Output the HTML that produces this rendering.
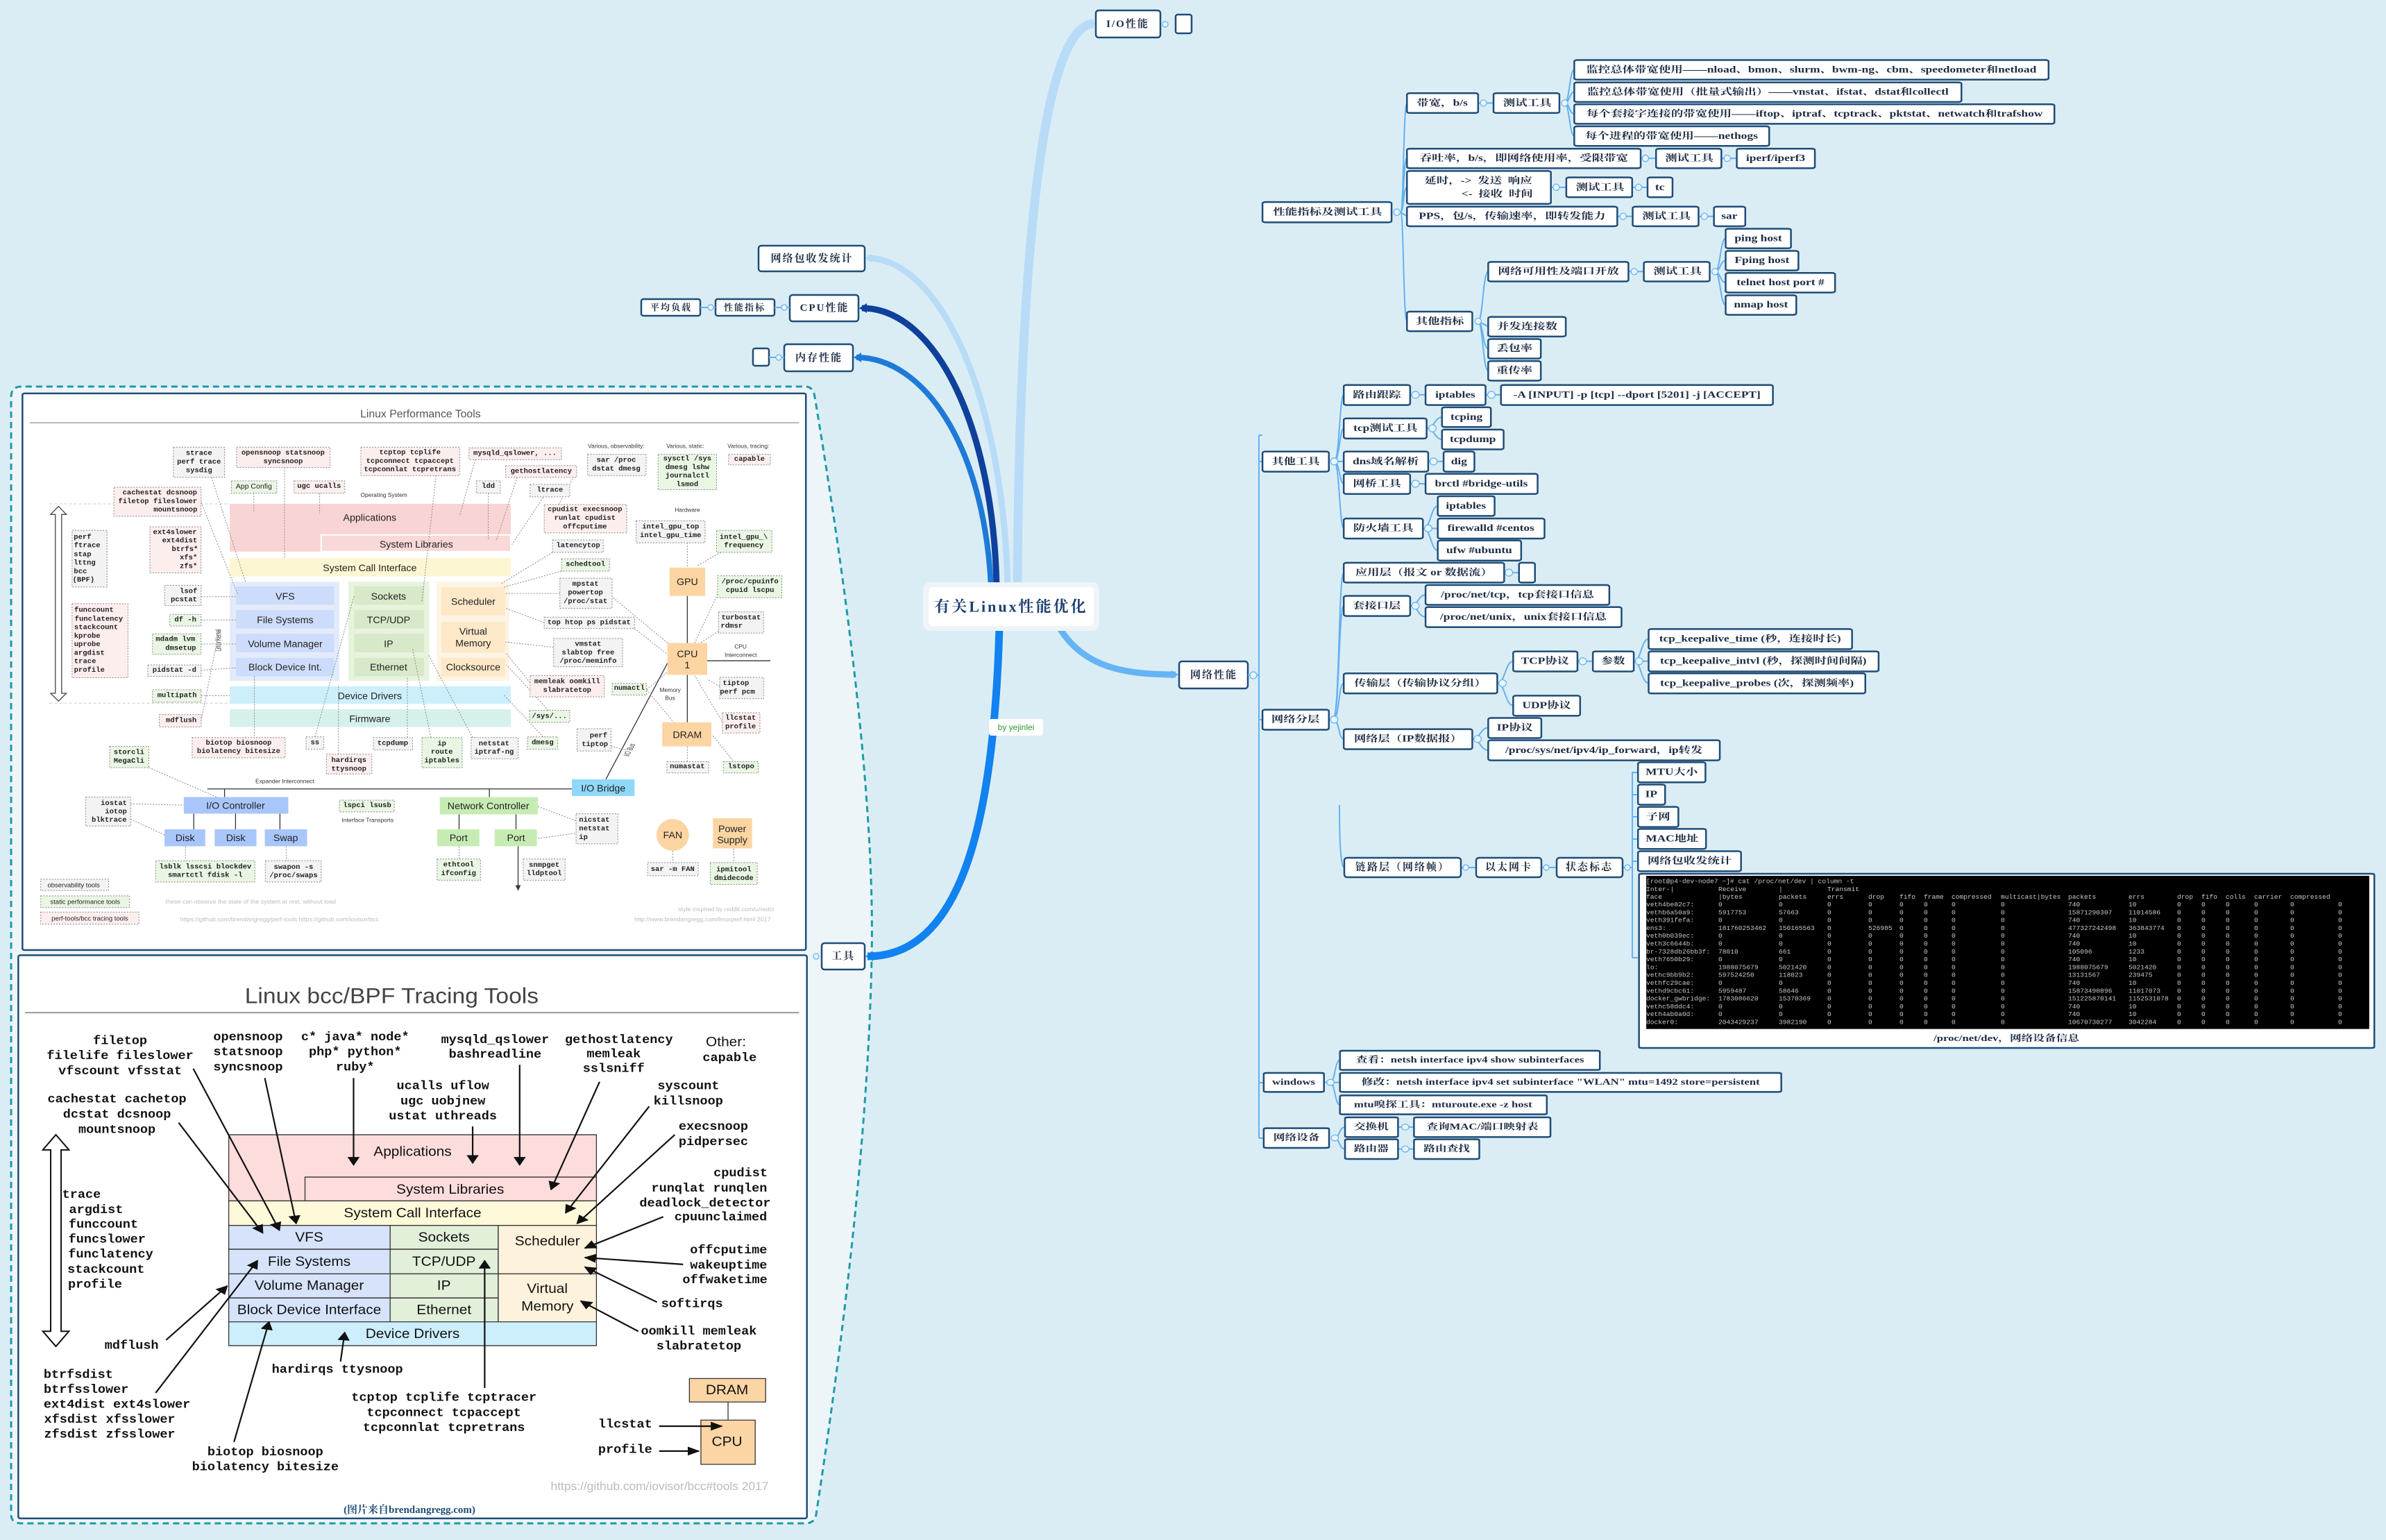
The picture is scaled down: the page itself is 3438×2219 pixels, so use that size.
<!DOCTYPE html>
<html><head><meta charset="utf-8">
<style>
html,body{margin:0;padding:0}
body{width:3438px;height:2214px;background:#dbedf4;overflow:hidden}
svg text{font-family:"Liberation Serif","Noto Serif CJK SC",serif;fill:#1d2c44;text-anchor:middle;dominant-baseline:central}
.n rect,.n line,.n path,.n ellipse,.n polygon,.n circle{vector-effect:non-scaling-stroke}
.nd{fill:#fff;stroke:#1f4d78;stroke-width:2.5}
.cn{fill:none;stroke:#63b1f2;stroke-width:2}
.ci{fill:#e8f4fc;stroke:#63b1f2;stroke-width:1.2}
.z1 text{transform-box:fill-box;transform-origin:center;transform:scaleX(.57);font-size:40px;font-weight:bold}
.z2 text{transform-box:fill-box;transform-origin:center;transform:scaleX(.78);font-size:29px;font-weight:bold}
.z3 text{transform-box:fill-box;transform-origin:center;transform:scaleX(.42);font-size:38px;font-weight:bold}
.i1 text{transform-box:fill-box;transform-origin:center;transform:scaleX(.7);font-family:"Liberation Mono",monospace;font-size:20px;fill:#222;font-weight:bold}
.i1 .sa{font-family:"Liberation Sans",sans-serif;font-weight:normal}
.i1 .L{font-size:27px;font-weight:normal}
.i1 .sm{font-size:16px;font-weight:normal;fill:#333}
.i1 .ft{font-size:17px;font-weight:normal;fill:#bbb}
.i2 text{transform-box:fill-box;transform-origin:center;transform:scaleX(.77);font-family:"Liberation Mono",monospace;font-size:32px;fill:#111;font-weight:bold}
.i2 .sa{font-family:"Liberation Sans",sans-serif;font-weight:normal;font-size:36px}
.gr{fill:#f3f3f3;stroke:#888;stroke-width:1;stroke-dasharray:2 2}
.gn{fill:#e9f6e3;stroke:#888;stroke-width:1;stroke-dasharray:2 2}
.pk{fill:#fdeeee;stroke:#888;stroke-width:1;stroke-dasharray:2 2}
.dl{stroke:#888;stroke-width:1;stroke-dasharray:2 2;fill:none}
.sl{stroke:#333;stroke-width:1.3;fill:none}
.ar{stroke:#111;stroke-width:2.2;fill:none;marker-end:url(#ah)}
.tm text{font-family:"Liberation Mono",monospace;font-size:9.6px;fill:#c9c9c9;text-anchor:start;font-weight:normal}
.mn text{font-size:15px;font-weight:bold;letter-spacing:2px}
</style></head><body>
<svg width="3438" height="2214" viewBox="0 0 3438 2214" xmlns="http://www.w3.org/2000/svg">
<defs>
<marker id="ah" viewBox="0 0 10 10" refX="9" refY="5" markerWidth="7" markerHeight="7" orient="auto-start-reverse"><path d="M0,0 L10,5 L0,10 z" fill="#111"/></marker>
</defs>

<path d="M16,572 Q16,557 31,557 L1160,557 Q1172,557 1174,572 Q1262,1100 1256,1378 Q1250,1700 1176,2182 Q1174,2195 1160,2195 L31,2195 Q16,2195 16,2182 Z" fill="#edf5f8" stroke="#1e9aa8" stroke-width="3" stroke-dasharray="9 6"/>

<path d="M1466,846 C1468,480 1490,38 1576,34" fill="none" stroke="#b8dcf8" stroke-width="13"/>
<path d="M1452,846 C1445,560 1350,372 1250,372" fill="none" stroke="#b8dcf8" stroke-width="9"/>
<path d="M1436,846 C1432,620 1350,444 1242,444" fill="none" stroke="#0f409c" stroke-width="9"/>
<path d="M1428,846 C1418,640 1330,515 1234,515" fill="none" stroke="#1e7ad8" stroke-width="8"/>
<path d="M1525,902 C1560,962 1620,972 1694,972" fill="none" stroke="#64b4f6" stroke-width="9"/>
<path d="M1440,902 C1432,1200 1380,1378 1250,1378" fill="none" stroke="#1182f0" stroke-width="11"/>
<polygon points="1580,34 1570,28 1570,40" fill="#b8dcf8"/>
<polygon points="1246,372 1256,366 1256,378" fill="#b8dcf8"/>
<polygon points="1238,444 1249,437 1249,451" fill="#0f409c"/>
<polygon points="1230,515 1241,508 1241,522" fill="#1e7ad8"/>
<polygon points="1698,972 1688,966 1688,978" fill="#64b4f6"/>
<polygon points="1247,1378 1258,1371 1258,1385" fill="#1182f0"/>

<rect x="1330" y="839" width="254" height="70" rx="10" fill="#eef4f7"/>
<rect x="1338" y="846" width="238" height="56" rx="6" fill="#fff"/>
<text x="1457" y="874" style="font-size:22px;font-weight:bold;fill:#1b3e6e;letter-spacing:3px">有关Linux性能优化</text>
<rect x="1425" y="1036" width="78" height="24" rx="4" fill="#fff"/>
<text x="1464" y="1048" style="font-family:'Liberation Sans',sans-serif;font-size:12px;fill:#2e9a2e">by yejinlei</text>

<g class="mn">
<rect class="nd" x="1579" y="15" width="93" height="39" rx="4"/><text x="1625" y="35">I/O性能</text>
<rect class="nd" x="1694" y="21" width="23" height="27" rx="3"/>
<circle class="ci" cx="1679" cy="35" r="4"/>
<rect class="nd" x="1093" y="354" width="153" height="37" rx="4"/><text x="1170" y="373">网络包收发统计</text>
<rect class="nd" x="1138" y="425" width="99" height="38" rx="4"/><text x="1188" y="444">CPU性能</text>
<rect class="nd" x="1031" y="431" width="85" height="24" rx="3"/><text x="1073" y="443" style="font-size:13px">性能指标</text>
<rect class="nd" x="924" y="431" width="85" height="24" rx="3"/><text x="967" y="443" style="font-size:13px">平均负载</text>
<line x1="1009" y1="443" x2="1031" y2="443" class="cn"/><line x1="1116" y1="443" x2="1138" y2="443" class="cn"/>
<circle class="ci" cx="1024" cy="443" r="4"/><circle class="ci" cx="1130" cy="443" r="4"/>
<rect class="nd" x="1130" y="496" width="99" height="39" rx="4"/><text x="1180" y="516">内存性能</text>
<rect class="nd" x="1085" y="502" width="23" height="25" rx="3"/>
<line x1="1108" y1="515" x2="1130" y2="515" class="cn"/><circle class="ci" cx="1122" cy="515" r="4"/>
<rect class="nd" x="1699" y="953" width="99" height="39" rx="4"/><text x="1749" y="973">网络性能</text>
<rect class="nd" x="1184" y="1359" width="62" height="38" rx="4"/><text x="1215" y="1378">工具</text>
<circle class="ci" cx="1176" cy="1378" r="4"/>
</g>

<text x="590" y="1359" style="font-size:15px;fill:#1f4d78;font-weight:bold">(图片来自brendangregg.com)</text>

<path class="cn" d="M1798,973 L1814,973 M1814,627 L1814,1640"/>
<circle class="ci" cx="1806" cy="973" r="5"/>
<path class="cn" d="M1814,627 L1819,627 M1814,665 L1819,665 M1814,1037 L1819,1037 M1814,1560 L1821,1560 M1814,1640 L1821,1640"/>

<g class="mn">
<path class="cn" d="M1930,1160 Q1930,1250 1937,1250 M2105,1250 L2127,1250 M2221,1250 L2243,1250 M2338,1250 L2352,1250 M2352,1112 L2352,1380"/>
<path class="cn" d="M2352,1113 L2360,1113 M2352,1145 L2360,1145 M2352,1177 L2360,1177 M2352,1209 L2360,1209 M2352,1241 L2360,1241 M2352,1380 L2360,1380"/>
<rect class="nd" x="1937" y="1236" width="168" height="28" rx="4"/><text x="2021" y="1250">链路层（网络帧）</text>
<rect class="nd" x="2127" y="1236" width="94" height="28" rx="4"/><text x="2174" y="1250">以太网卡</text>
<rect class="nd" x="2243" y="1236" width="95" height="28" rx="4"/><text x="2290" y="1250">状态标志</text>
<circle class="ci" cx="2112" cy="1250" r="4"/><circle class="ci" cx="2228" cy="1250" r="4"/><circle class="ci" cx="2345" cy="1250" r="4"/>
</g>

<svg class="n z1" x="1800" y="60" width="1200" height="520" viewBox="0 0 1568 1568" preserveAspectRatio="none" overflow="visible">
<g class="cn">
<path d="M285,741 C291,741 290,267 297,267 M285,741 C291,741 290,507 297,507 M285,741 C291,741 290,633 297,633 M285,741 L297,759 M285,741 C291,741 290,1215 297,1215"/>
<path d="M431,267 L460,267 M594,267 C603,267 603,122 612,122 M594,267 C603,267 603,219 612,219 M594,267 C603,267 603,314 612,314 M594,267 C603,267 603,410 612,410"/>
<path d="M737,507 L766,507 M889,507 L918,507 M568,633 L597,633 M721,633 L750,633 M693,759 L722,759 M846,759 L875,759"/>
<path d="M431,1215 C440,1215 440,999 450,999 M431,1215 L450,1238 M431,1215 C440,1215 440,1334 450,1334 M431,1215 C440,1215 440,1430 450,1430"/>
<path d="M714,999 L743,999 M877,999 C887,999 887,855 897,855 M877,999 C887,999 887,951 897,951 M877,999 C887,999 887,1047 897,1047 M877,999 C887,999 887,1144 897,1144"/>
</g>
<ellipse class="ci" cx="278" cy="741" rx="6" ry="14"/><ellipse class="ci" cx="441" cy="267" rx="6" ry="14"/><ellipse class="ci" cx="594" cy="267" rx="6" ry="14"/>
<ellipse class="ci" cx="746" cy="507" rx="6" ry="14"/><ellipse class="ci" cx="900" cy="507" rx="6" ry="14"/><ellipse class="ci" cx="578" cy="633" rx="6" ry="14"/><ellipse class="ci" cx="733" cy="633" rx="6" ry="14"/>
<ellipse class="ci" cx="704" cy="759" rx="6" ry="14"/><ellipse class="ci" cx="857" cy="759" rx="6" ry="14"/><ellipse class="ci" cx="431" cy="1215" rx="6" ry="14"/><ellipse class="ci" cx="725" cy="999" rx="6" ry="14"/><ellipse class="ci" cx="877" cy="999" rx="6" ry="14"/>
<rect class="nd" x="25" y="697" width="243" height="88" rx="6"/><text x="146" y="741">性能指标及测试工具</text>
<rect class="nd" x="297" y="224" width="134" height="86" rx="6"/><text x="364" y="267">带宽，b/s</text>
<rect class="nd" x="460" y="224" width="124" height="86" rx="6"/><text x="522" y="267">测试工具</text>
<rect class="nd" x="612" y="80" width="893" height="85" rx="6"/><text x="1058" y="122">监控总体带宽使用——nload、bmon、slurm、bwm-ng、cbm、speedometer和netload</text>
<rect class="nd" x="612" y="177" width="729" height="85" rx="6"/><text x="976" y="219">监控总体带宽使用（批量式输出）——vnstat、ifstat、dstat和collectl</text>
<rect class="nd" x="612" y="272" width="904" height="85" rx="6"/><text x="1064" y="314">每个套接字连接的带宽使用——iftop、iptraf、tcptrack、pktstat、netwatch和trafshow</text>
<rect class="nd" x="612" y="368" width="367" height="85" rx="6"/><text x="795" y="410">每个进程的带宽使用——nethogs</text>
<rect class="nd" x="297" y="465" width="440" height="85" rx="6"/><text x="517" y="507">吞吐率，b/s，即网络使用率，受限带宽</text>
<rect class="nd" x="766" y="465" width="123" height="85" rx="6"/><text x="827" y="507">测试工具</text>
<rect class="nd" x="918" y="465" width="147" height="85" rx="6"/><text x="991" y="507">iperf/iperf3</text>
<rect class="nd" x="297" y="562" width="271" height="143" rx="6"/><text x="431" y="605" xml:space="preserve">延时，-&gt;  发送  响应</text><text x="467" y="662" xml:space="preserve">&lt;-  接收  时间</text>
<rect class="nd" x="597" y="590" width="124" height="86" rx="6"/><text x="659" y="633">测试工具</text>
<rect class="nd" x="750" y="590" width="47" height="86" rx="6"/><text x="773" y="633">tc</text>
<rect class="nd" x="297" y="717" width="396" height="85" rx="6"/><text x="495" y="759">PPS，包/s，传输速率，即转发能力</text>
<rect class="nd" x="722" y="717" width="124" height="85" rx="6"/><text x="784" y="759">测试工具</text>
<rect class="nd" x="875" y="717" width="59" height="85" rx="6"/><text x="904" y="759">sar</text>
<rect class="nd" x="297" y="1173" width="123" height="85" rx="6"/><text x="358" y="1215">其他指标</text>
<rect class="nd" x="450" y="957" width="264" height="85" rx="6"/><text x="582" y="999">网络可用性及端口开放</text>
<rect class="nd" x="743" y="957" width="124" height="85" rx="6"/><text x="805" y="999">测试工具</text>
<rect class="nd" x="897" y="813" width="123" height="85" rx="6"/><text x="958" y="855">ping host</text>
<rect class="nd" x="897" y="909" width="137" height="85" rx="6"/><text x="965" y="951">Fping host</text>
<rect class="nd" x="897" y="1005" width="206" height="85" rx="6"/><text x="1000" y="1047">telnet host port #</text>
<rect class="nd" x="897" y="1102" width="133" height="85" rx="6"/><text x="963" y="1144">nmap host</text>
<rect class="nd" x="450" y="1196" width="146" height="85" rx="6"/><text x="523" y="1238">并发连接数</text>
<rect class="nd" x="450" y="1292" width="99" height="85" rx="6"/><text x="499" y="1334">丢包率</text>
<rect class="nd" x="450" y="1388" width="99" height="85" rx="6"/><text x="499" y="1430">重传率</text>
</svg>

<svg class="n z2" x="1800" y="540" width="1200" height="720" viewBox="0 0 1568 1568" preserveAspectRatio="none" overflow="visible">
<g class="cn">
<path d="M160,272 C170,272 170,63 178,63 M160,272 C170,272 170,168 178,168 M160,272 L178,272 M160,272 C170,272 170,342 178,342 M160,272 C170,272 170,482 178,482"/>
<path d="M303,63 L332,63 M445,63 L474,63 M334,168 C348,168 350,133 363,133 M334,168 C348,168 350,203 363,203 M337,272 L366,272 M303,342 L332,342"/>
<path d="M327,482 C342,482 342,412 355,412 M327,482 L355,482 M327,482 C342,482 342,551 355,551"/>
<path d="M158,1082 C170,1082 168,621 178,621 M158,1082 C170,1082 168,725 178,725 M158,1082 C170,1082 168,968 178,968 M158,1082 C170,1082 168,1143 178,1143"/>
<path d="M480,621 L508,621 M303,725 C318,725 318,691 332,691 M303,725 C318,725 318,760 332,760"/>
<path d="M467,968 C482,968 482,899 497,899 M467,968 C482,968 482,1038 497,1038 M618,899 L647,899 M724,899 C738,899 738,829 752,829 M724,899 L752,899 M724,899 C738,899 738,968 752,968"/>
<path d="M420,1143 C435,1143 435,1108 450,1108 M420,1143 C435,1143 435,1178 450,1178"/>
</g>
<ellipse class="ci" cx="160" cy="272" rx="7" ry="11"/><ellipse class="ci" cx="160" cy="1082" rx="7" ry="11"/><ellipse class="ci" cx="313" cy="63" rx="7" ry="11"/><ellipse class="ci" cx="456" cy="63" rx="7" ry="11"/>
<ellipse class="ci" cx="345" cy="168" rx="7" ry="11"/><ellipse class="ci" cx="347" cy="272" rx="7" ry="11"/><ellipse class="ci" cx="313" cy="342" rx="7" ry="11"/><ellipse class="ci" cx="337" cy="482" rx="7" ry="11"/>
<ellipse class="ci" cx="489" cy="621" rx="7" ry="11"/><ellipse class="ci" cx="313" cy="725" rx="7" ry="11"/><ellipse class="ci" cx="477" cy="968" rx="7" ry="11"/><ellipse class="ci" cx="628" cy="899" rx="7" ry="11"/><ellipse class="ci" cx="734" cy="899" rx="7" ry="11"/><ellipse class="ci" cx="430" cy="1143" rx="7" ry="11"/>
<rect class="nd" x="25" y="241" width="125" height="63" rx="5"/><text x="87" y="272">其他工具</text>
<rect class="nd" x="178" y="32" width="125" height="63" rx="5"/><text x="240" y="63">路由跟踪</text>
<rect class="nd" x="332" y="32" width="113" height="63" rx="5"/><text x="388" y="63">iptables</text>
<rect class="nd" x="474" y="32" width="512" height="63" rx="5"/><text x="730" y="63">-A [INPUT] -p [tcp] --dport [5201] -j [ACCEPT]</text>
<rect class="nd" x="178" y="137" width="156" height="63" rx="5"/><text x="256" y="168">tcp测试工具</text>
<rect class="nd" x="363" y="102" width="92" height="62" rx="5"/><text x="409" y="133">tcping</text>
<rect class="nd" x="363" y="172" width="116" height="62" rx="5"/><text x="421" y="203">tcpdump</text>
<rect class="nd" x="178" y="241" width="159" height="63" rx="5"/><text x="257" y="272">dns域名解析</text>
<rect class="nd" x="366" y="241" width="58" height="63" rx="5"/><text x="395" y="272">dig</text>
<rect class="nd" x="178" y="311" width="125" height="63" rx="5"/><text x="240" y="342">网桥工具</text>
<rect class="nd" x="332" y="311" width="211" height="63" rx="5"/><text x="437" y="342">brctl #bridge-utils</text>
<rect class="nd" x="178" y="451" width="149" height="63" rx="5"/><text x="252" y="482">防火墙工具</text>
<rect class="nd" x="355" y="381" width="107" height="62" rx="5"/><text x="408" y="412">iptables</text>
<rect class="nd" x="355" y="451" width="201" height="63" rx="5"/><text x="455" y="482">firewalld #centos</text>
<rect class="nd" x="355" y="520" width="157" height="63" rx="5"/><text x="433" y="551">ufw #ubuntu</text>
<rect class="nd" x="178" y="590" width="302" height="62" rx="5"/><text x="329" y="621">应用层（报文 or 数据流）</text>
<rect class="nd" x="508" y="590" width="30" height="62" rx="5"/>
<rect class="nd" x="178" y="694" width="125" height="63" rx="5"/><text x="240" y="725">套接口层</text>
<rect class="nd" x="332" y="660" width="346" height="62" rx="5"/><text x="505" y="691">/proc/net/tcp，tcp套接口信息</text>
<rect class="nd" x="332" y="729" width="369" height="63" rx="5"/><text x="516" y="760">/proc/net/unix，unix套接口信息</text>
<rect class="nd" x="178" y="937" width="289" height="63" rx="5"/><text x="322" y="968">传输层（传输协议分组）</text>
<rect class="nd" x="497" y="868" width="121" height="63" rx="5"/><text x="557" y="899">TCP协议</text>
<rect class="nd" x="647" y="868" width="77" height="63" rx="5"/><text x="685" y="899">参数</text>
<rect class="nd" x="752" y="798" width="383" height="63" rx="5"/><text x="943" y="829">tcp_keepalive_time (秒，连接时长)</text>
<rect class="nd" x="752" y="868" width="433" height="63" rx="5"/><text x="968" y="899">tcp_keepalive_intvl (秒，探测时间间隔)</text>
<rect class="nd" x="752" y="937" width="408" height="63" rx="5"/><text x="956" y="968">tcp_keepalive_probes (次，探测频率)</text>
<rect class="nd" x="497" y="1007" width="126" height="63" rx="5"/><text x="560" y="1038">UDP协议</text>
<rect class="nd" x="25" y="1051" width="125" height="63" rx="5"/><text x="87" y="1082">网络分层</text>
<rect class="nd" x="178" y="1112" width="242" height="63" rx="5"/><text x="299" y="1143">网络层（IP数据报）</text>
<rect class="nd" x="450" y="1077" width="100" height="63" rx="5"/><text x="500" y="1108">IP协议</text>
<rect class="nd" x="450" y="1147" width="436" height="63" rx="5"/><text x="668" y="1178">/proc/sys/net/ipv4/ip_forward，ip转发</text>
<rect class="nd" x="732" y="1216" width="127" height="63" rx="5"/><text x="795" y="1247">MTU大小</text>
<rect class="nd" x="732" y="1286" width="51" height="63" rx="5"/><text x="757" y="1317">IP</text>
<rect class="nd" x="732" y="1356" width="76" height="63" rx="5"/><text x="770" y="1387">子网</text>
<rect class="nd" x="732" y="1425" width="128" height="63" rx="5"/><text x="796" y="1456">MAC地址</text>
<rect class="nd" x="732" y="1495" width="194" height="63" rx="5"/><text x="829" y="1526">网络包收发统计</text>
</svg>

<svg class="n z3" x="1800" y="1240" width="1640" height="440" viewBox="0 0 1568 1320" preserveAspectRatio="none" overflow="visible">
<g class="cn">
<path d="M112,959 C118,959 118,863 125,863 M103,959 L125,959 M112,959 C118,959 118,1056 125,1056"/>
<path d="M118,1199 C124,1199 124,1152 132,1152 M118,1199 C124,1199 124,1247 132,1247 M205,1152 L227,1152 M205,1247 L227,1247"/>
</g>
<ellipse class="ci" cx="112" cy="959" rx="5" ry="13"/><ellipse class="ci" cx="118" cy="1199" rx="5" ry="13"/><ellipse class="ci" cx="215" cy="1152" rx="5" ry="13"/><ellipse class="ci" cx="215" cy="1247" rx="5" ry="13"/>
<rect class="nd" x="537" y="57" width="1013" height="753" rx="4"/>
<rect x="547" y="66" width="996" height="662" fill="#000"/>
<text x="1043" y="770">/proc/net/dev，网络设备信息</text>
<rect class="nd" x="20" y="918" width="83" height="82" rx="4"/><text x="61" y="959">windows</text>
<rect class="nd" x="125" y="822" width="358" height="83" rx="4"/><text x="304" y="863">查看：netsh interface ipv4 show subinterfaces</text>
<rect class="nd" x="125" y="918" width="608" height="82" rx="4"/><text x="429" y="959">修改：netsh interface ipv4 set subinterface "WLAN" mtu=1492 store=persistent</text>
<rect class="nd" x="125" y="1015" width="285" height="82" rx="4"/><text x="267" y="1056">mtu嗅探工具：mturoute.exe -z host</text>
<rect class="nd" x="20" y="1157" width="90" height="85" rx="4"/><text x="65" y="1199">网络设备</text>
<rect class="nd" x="132" y="1110" width="73" height="85" rx="4"/><text x="168" y="1152">交换机</text>
<rect class="nd" x="227" y="1110" width="188" height="85" rx="4"/><text x="321" y="1152">查询MAC/端口映射表</text>
<rect class="nd" x="132" y="1205" width="73" height="85" rx="4"/><text x="168" y="1247">路由器</text>
<rect class="nd" x="227" y="1205" width="90" height="85" rx="4"/><text x="272" y="1247">路由查找</text>
</svg>

<g class="tm">
<text x="2372" y="1270">[root@p4-dev-node7 ~]# cat /proc/net/dev | column -t</text>
<text y="1281"><tspan x="2372">Inter-|</tspan><tspan x="2476">Receive</tspan><tspan x="2563">|</tspan><tspan x="2633">Transmit</tspan></text>
<text y="1292"><tspan x="2372">face</tspan><tspan x="2476">|bytes</tspan><tspan x="2563">packets</tspan><tspan x="2633">errs</tspan><tspan x="2692">drop</tspan><tspan x="2737">fifo</tspan><tspan x="2772">frame</tspan><tspan x="2812">compressed</tspan><tspan x="2883">multicast|bytes</tspan><tspan x="2980">packets</tspan><tspan x="3067">errs</tspan><tspan x="3137">drop</tspan><tspan x="3172">fifo</tspan><tspan x="3207">colls</tspan><tspan x="3248">carrier</tspan><tspan x="3300">compressed</tspan></text>
</g>
<g class="tm">
<text y="1303"><tspan x="2372">veth4be82c7:</tspan><tspan x="2476">0</tspan><tspan x="2563">0</tspan><tspan x="2633">0</tspan><tspan x="2692">0</tspan><tspan x="2737">0</tspan><tspan x="2772">0</tspan><tspan x="2812">0</tspan><tspan x="2883">0</tspan><tspan x="2980">740</tspan><tspan x="3067">10</tspan><tspan x="3137">0</tspan><tspan x="3172">0</tspan><tspan x="3207">0</tspan><tspan x="3248">0</tspan><tspan x="3300">0</tspan><tspan x="3369">0</tspan></text>
<text y="1314.3"><tspan x="2372">vethb6a50a9:</tspan><tspan x="2476">5917753</tspan><tspan x="2563">57663</tspan><tspan x="2633">0</tspan><tspan x="2692">0</tspan><tspan x="2737">0</tspan><tspan x="2772">0</tspan><tspan x="2812">0</tspan><tspan x="2883">0</tspan><tspan x="2980">15871290307</tspan><tspan x="3067">11014586</tspan><tspan x="3137">0</tspan><tspan x="3172">0</tspan><tspan x="3207">0</tspan><tspan x="3248">0</tspan><tspan x="3300">0</tspan><tspan x="3369">0</tspan></text>
<text y="1325.6"><tspan x="2372">veth391fefa:</tspan><tspan x="2476">0</tspan><tspan x="2563">0</tspan><tspan x="2633">0</tspan><tspan x="2692">0</tspan><tspan x="2737">0</tspan><tspan x="2772">0</tspan><tspan x="2812">0</tspan><tspan x="2883">0</tspan><tspan x="2980">740</tspan><tspan x="3067">10</tspan><tspan x="3137">0</tspan><tspan x="3172">0</tspan><tspan x="3207">0</tspan><tspan x="3248">0</tspan><tspan x="3300">0</tspan><tspan x="3369">0</tspan></text>
<text y="1336.9"><tspan x="2372">ens3:</tspan><tspan x="2476">181760253462</tspan><tspan x="2563">150165563</tspan><tspan x="2633">0</tspan><tspan x="2692">526985</tspan><tspan x="2737">0</tspan><tspan x="2772">0</tspan><tspan x="2812">0</tspan><tspan x="2883">0</tspan><tspan x="2980">477327242498</tspan><tspan x="3067">363843774</tspan><tspan x="3137">0</tspan><tspan x="3172">0</tspan><tspan x="3207">0</tspan><tspan x="3248">0</tspan><tspan x="3300">0</tspan><tspan x="3369">0</tspan></text>
<text y="1348.2"><tspan x="2372">veth0b039ec:</tspan><tspan x="2476">0</tspan><tspan x="2563">0</tspan><tspan x="2633">0</tspan><tspan x="2692">0</tspan><tspan x="2737">0</tspan><tspan x="2772">0</tspan><tspan x="2812">0</tspan><tspan x="2883">0</tspan><tspan x="2980">740</tspan><tspan x="3067">10</tspan><tspan x="3137">0</tspan><tspan x="3172">0</tspan><tspan x="3207">0</tspan><tspan x="3248">0</tspan><tspan x="3300">0</tspan><tspan x="3369">0</tspan></text>
<text y="1359.5"><tspan x="2372">veth3c6644b:</tspan><tspan x="2476">0</tspan><tspan x="2563">0</tspan><tspan x="2633">0</tspan><tspan x="2692">0</tspan><tspan x="2737">0</tspan><tspan x="2772">0</tspan><tspan x="2812">0</tspan><tspan x="2883">0</tspan><tspan x="2980">740</tspan><tspan x="3067">10</tspan><tspan x="3137">0</tspan><tspan x="3172">0</tspan><tspan x="3207">0</tspan><tspan x="3248">0</tspan><tspan x="3300">0</tspan><tspan x="3369">0</tspan></text>
<text y="1370.8"><tspan x="2372">br-7328db26bb3f:</tspan><tspan x="2476">78010</tspan><tspan x="2563">661</tspan><tspan x="2633">0</tspan><tspan x="2692">0</tspan><tspan x="2737">0</tspan><tspan x="2772">0</tspan><tspan x="2812">0</tspan><tspan x="2883">0</tspan><tspan x="2980">105096</tspan><tspan x="3067">1233</tspan><tspan x="3137">0</tspan><tspan x="3172">0</tspan><tspan x="3207">0</tspan><tspan x="3248">0</tspan><tspan x="3300">0</tspan><tspan x="3369">0</tspan></text>
<text y="1382.1"><tspan x="2372">veth7650b29:</tspan><tspan x="2476">0</tspan><tspan x="2563">0</tspan><tspan x="2633">0</tspan><tspan x="2692">0</tspan><tspan x="2737">0</tspan><tspan x="2772">0</tspan><tspan x="2812">0</tspan><tspan x="2883">0</tspan><tspan x="2980">740</tspan><tspan x="3067">10</tspan><tspan x="3137">0</tspan><tspan x="3172">0</tspan><tspan x="3207">0</tspan><tspan x="3248">0</tspan><tspan x="3300">0</tspan><tspan x="3369">0</tspan></text>
<text y="1393.4"><tspan x="2372">lo:</tspan><tspan x="2476">1988075679</tspan><tspan x="2563">5021420</tspan><tspan x="2633">0</tspan><tspan x="2692">0</tspan><tspan x="2737">0</tspan><tspan x="2772">0</tspan><tspan x="2812">0</tspan><tspan x="2883">0</tspan><tspan x="2980">1988075679</tspan><tspan x="3067">5021420</tspan><tspan x="3137">0</tspan><tspan x="3172">0</tspan><tspan x="3207">0</tspan><tspan x="3248">0</tspan><tspan x="3300">0</tspan><tspan x="3369">0</tspan></text>
<text y="1404.7"><tspan x="2372">vethc9bb9b2:</tspan><tspan x="2476">597524250</tspan><tspan x="2563">118023</tspan><tspan x="2633">0</tspan><tspan x="2692">0</tspan><tspan x="2737">0</tspan><tspan x="2772">0</tspan><tspan x="2812">0</tspan><tspan x="2883">0</tspan><tspan x="2980">13131567</tspan><tspan x="3067">239475</tspan><tspan x="3137">0</tspan><tspan x="3172">0</tspan><tspan x="3207">0</tspan><tspan x="3248">0</tspan><tspan x="3300">0</tspan><tspan x="3369">0</tspan></text>
<text y="1416"><tspan x="2372">vethfc29cae:</tspan><tspan x="2476">0</tspan><tspan x="2563">0</tspan><tspan x="2633">0</tspan><tspan x="2692">0</tspan><tspan x="2737">0</tspan><tspan x="2772">0</tspan><tspan x="2812">0</tspan><tspan x="2883">0</tspan><tspan x="2980">740</tspan><tspan x="3067">10</tspan><tspan x="3137">0</tspan><tspan x="3172">0</tspan><tspan x="3207">0</tspan><tspan x="3248">0</tspan><tspan x="3300">0</tspan><tspan x="3369">0</tspan></text>
<text y="1427.3"><tspan x="2372">vethd9cbc61:</tspan><tspan x="2476">5959487</tspan><tspan x="2563">58646</tspan><tspan x="2633">0</tspan><tspan x="2692">0</tspan><tspan x="2737">0</tspan><tspan x="2772">0</tspan><tspan x="2812">0</tspan><tspan x="2883">0</tspan><tspan x="2980">15873490896</tspan><tspan x="3067">11017073</tspan><tspan x="3137">0</tspan><tspan x="3172">0</tspan><tspan x="3207">0</tspan><tspan x="3248">0</tspan><tspan x="3300">0</tspan><tspan x="3369">0</tspan></text>
<text y="1438.6"><tspan x="2372">docker_gwbridge:</tspan><tspan x="2476">1783086620</tspan><tspan x="2563">15370369</tspan><tspan x="2633">0</tspan><tspan x="2692">0</tspan><tspan x="2737">0</tspan><tspan x="2772">0</tspan><tspan x="2812">0</tspan><tspan x="2883">0</tspan><tspan x="2980">151225870141</tspan><tspan x="3067">1152531078</tspan><tspan x="3137">0</tspan><tspan x="3172">0</tspan><tspan x="3207">0</tspan><tspan x="3248">0</tspan><tspan x="3300">0</tspan><tspan x="3369">0</tspan></text>
<text y="1449.9"><tspan x="2372">vethc58ddc4:</tspan><tspan x="2476">0</tspan><tspan x="2563">0</tspan><tspan x="2633">0</tspan><tspan x="2692">0</tspan><tspan x="2737">0</tspan><tspan x="2772">0</tspan><tspan x="2812">0</tspan><tspan x="2883">0</tspan><tspan x="2980">740</tspan><tspan x="3067">10</tspan><tspan x="3137">0</tspan><tspan x="3172">0</tspan><tspan x="3207">0</tspan><tspan x="3248">0</tspan><tspan x="3300">0</tspan><tspan x="3369">0</tspan></text>
<text y="1461.2"><tspan x="2372">veth4ab0a0d:</tspan><tspan x="2476">0</tspan><tspan x="2563">0</tspan><tspan x="2633">0</tspan><tspan x="2692">0</tspan><tspan x="2737">0</tspan><tspan x="2772">0</tspan><tspan x="2812">0</tspan><tspan x="2883">0</tspan><tspan x="2980">740</tspan><tspan x="3067">10</tspan><tspan x="3137">0</tspan><tspan x="3172">0</tspan><tspan x="3207">0</tspan><tspan x="3248">0</tspan><tspan x="3300">0</tspan><tspan x="3369">0</tspan></text>
<text y="1472.5"><tspan x="2372">docker0:</tspan><tspan x="2476">2043429237</tspan><tspan x="2563">3982190</tspan><tspan x="2633">0</tspan><tspan x="2692">0</tspan><tspan x="2737">0</tspan><tspan x="2772">0</tspan><tspan x="2812">0</tspan><tspan x="2883">0</tspan><tspan x="2980">10670730277</tspan><tspan x="3067">3042284</tspan><tspan x="3137">0</tspan><tspan x="3172">0</tspan><tspan x="3207">0</tspan><tspan x="3248">0</tspan><tspan x="3300">0</tspan><tspan x="3369">0</tspan></text>
</g>

<svg class="n i1" x="0" y="550" width="1180" height="800" viewBox="0 0 1568 1568" preserveAspectRatio="none" overflow="visible">
<rect x="43" y="33" width="1500" height="1572" rx="4" fill="#fff" stroke="#1f4d78" stroke-width="2.5"/>
<text class="sa" x="805" y="92" style="font-size:30px;fill:#555">Linux Performance Tools</text>
<line x1="57" y1="116" x2="1530" y2="116" stroke="#999" stroke-width="1.3"/>
<line x1="95" y1="345" x2="440" y2="345" stroke="#ccc" stroke-dasharray="4 3"/>
<line x1="95" y1="908" x2="440" y2="908" stroke="#ccc" stroke-dasharray="4 3"/>
<polygon points="112,352 127,375 118,375 118,880 127,880 112,902 97,880 106,880 106,375 97,375" fill="#fff" stroke="#444" stroke-width="1.3"/>
<rect x="440" y="345" width="538" height="135" fill="#f9d4d4"/>
<rect x="615" y="433" width="363" height="47" fill="#f9d8d8" stroke="#fff" stroke-width="2"/>
<rect x="440" y="498" width="538" height="52" fill="#fdf6d2"/>
<rect x="440" y="565" width="210" height="280" fill="#e3ebfb"/>
<rect x="667" y="565" width="155" height="280" fill="#e8f3de"/>
<rect x="836" y="565" width="139" height="280" fill="#fdf4e4"/>
<rect x="452" y="578" width="188" height="52" fill="#cddcfb"/><rect x="452" y="645" width="188" height="52" fill="#cddcfb"/><rect x="452" y="712" width="188" height="52" fill="#cddcfb"/><rect x="452" y="780" width="188" height="52" fill="#cddcfb"/>
<rect x="678" y="578" width="134" height="52" fill="#d7e9c8"/><rect x="678" y="645" width="134" height="52" fill="#d7e9c8"/><rect x="678" y="712" width="134" height="52" fill="#d7e9c8"/><rect x="678" y="780" width="134" height="52" fill="#d7e9c8"/>
<rect x="845" y="580" width="122" height="80" fill="#fde8c8"/><rect x="845" y="678" width="122" height="87" fill="#fde8c8"/><rect x="845" y="780" width="122" height="52" fill="#fde8c8"/>
<rect x="440" y="860" width="538" height="50" fill="#cdeffc"/>
<rect x="440" y="925" width="538" height="50" fill="#d6f1ec"/>
<text class="sa L" x="708" y="383">Applications</text>
<text class="sa L" x="797" y="459">System Libraries</text>
<text class="sa L" x="708" y="525">System Call Interface</text>
<text class="sa L" x="546" y="606">VFS</text><text class="sa L" x="546" y="672">File Systems</text><text class="sa L" x="546" y="740">Volume Manager</text><text class="sa L" x="546" y="806">Block Device Int.</text>
<text class="sa L" x="744" y="606">Sockets</text><text class="sa L" x="744" y="672">TCP/UDP</text><text class="sa L" x="744" y="740">IP</text><text class="sa L" x="744" y="806">Ethernet</text>
<text class="sa L" x="906" y="621">Scheduler</text><text class="sa L" x="906" y="705">Virtual</text><text class="sa L" x="906" y="738">Memory</text><text class="sa L" x="906" y="806">Clocksource</text>
<text class="sa L" x="708" y="887">Device Drivers</text>
<text class="sa L" x="708" y="952">Firmware</text>
<text class="sa sm" x="735" y="320">Operating System</text>
<text class="sa sm" x="417" y="730" style="transform:rotate(-90deg) scaleX(.7)">Linux Kernel</text>
<text class="sa sm" x="1316" y="362">Hardware</text>
<text class="sa sm" x="1180" y="181">Various, observability:</text><text class="sa sm" x="1312" y="181">Various, static:</text><text class="sa sm" x="1433" y="181">Various, tracing:</text>
<text class="sa sm" x="1418" y="748">CPU</text><text class="sa sm" x="1418" y="771">Interconnect</text>
<text class="sa sm" x="1283" y="870">Memory</text><text class="sa sm" x="1283" y="893">Bus</text>
<text class="sa sm" x="545" y="1128">Expander Interconnect</text>
<text class="sa sm" x="704" y="1238">Interface Transports</text>
<text class="sa sm" x="1205" y="1040" style="transform:rotate(-70deg) scaleX(.7)">I/O Bus</text>
<g class="sl">
<line x1="1316" y1="605" x2="1316" y2="738"/><line x1="1316" y1="828" x2="1316" y2="962"/><line x1="1354" y1="788" x2="1475" y2="788"/>
<line x1="1278" y1="795" x2="1160" y2="1123"/><line x1="397" y1="1150" x2="1095" y2="1150"/>
<line x1="430" y1="1150" x2="430" y2="1173"/><line x1="937" y1="1150" x2="937" y2="1173"/>
<line x1="371" y1="1220" x2="371" y2="1264"/><line x1="451" y1="1220" x2="451" y2="1264"/><line x1="536" y1="1220" x2="536" y2="1264"/>
<line x1="879" y1="1222" x2="879" y2="1264"/><line x1="988" y1="1222" x2="988" y2="1264"/>
<line x1="992" y1="1312" x2="992" y2="1432"/>
</g>
<polygon points="992,1438 987,1422 997,1422" fill="#333"/>
<rect x="1282" y="525" width="68" height="80" fill="#fdd5a2"/><text class="sa L" x="1316" y="565">GPU</text>
<rect x="1278" y="738" width="76" height="90" fill="#fdd5a2"/><text class="sa L" x="1316" y="768">CPU</text><text class="sa L" x="1316" y="800">1</text>
<rect x="1268" y="962" width="94" height="68" fill="#fdd5a2"/><text class="sa L" x="1316" y="997">DRAM</text>
<rect x="1095" y="1123" width="120" height="47" fill="#8fd8fa"/><text class="sa L" x="1155" y="1148">I/O Bridge</text>
<rect x="352" y="1173" width="200" height="47" fill="#a9c6fb"/><text class="sa L" x="451" y="1197">I/O Controller</text>
<rect x="315" y="1264" width="78" height="48" fill="#a9c6fb"/><text class="sa L" x="354" y="1288">Disk</text>
<rect x="411" y="1264" width="80" height="48" fill="#a9c6fb"/><text class="sa L" x="451" y="1288">Disk</text>
<rect x="507" y="1264" width="81" height="48" fill="#a9c6fb"/><text class="sa L" x="547" y="1288">Swap</text>
<rect x="842" y="1173" width="188" height="49" fill="#c7ecb3"/><text class="sa L" x="935" y="1198">Network Controller</text>
<rect x="837" y="1264" width="81" height="48" fill="#c7ecb3"/><text class="sa L" x="878" y="1288">Port</text>
<rect x="947" y="1264" width="81" height="48" fill="#c7ecb3"/><text class="sa L" x="988" y="1288">Port</text>
<ellipse cx="1288" cy="1280" rx="31" ry="45" fill="#fdd5a2"/><text class="sa L" x="1288" y="1280">FAN</text>
<rect x="1365" y="1233" width="75" height="85" fill="#fdd5a2"/><text class="sa L" x="1402" y="1262">Power</text><text class="sa L" x="1402" y="1294">Supply</text>
<g class="dl">
<path d="M405,270 L470,565 M545,242 L545,500 M835,265 L808,620 M910,220 L880,380 M990,270 L950,450 M385,340 L455,600 M1040,327 L980,460 M1058,482 L960,570 M1075,535 L965,580 M1072,598 L968,598 M1042,680 L968,640 M1060,750 L968,735 M1015,850 L968,765 M1170,605 L1280,740 M1215,697 L1278,770 M1316,455 L1316,525 M1380,482 L1335,520 M1374,600 L1330,738 M1376,705 L1340,738 M1378,860 L1354,840 M1383,960 L1330,830 M1238,870 L1278,820"/>
<path d="M385,607 L452,607 M385,673 L452,673 M385,741 L452,741 M385,815 L452,808 M385,887 L440,887 M487,832 L487,1005 M603,1003 L678,605 M648,1052 L648,855 M780,1005 L780,835 M825,1005 L790,755 M905,1005 L820,770 M1040,1003 L965,885 M1050,928 L970,800 M486,315 L486,370 M612,315 L612,372 M935,315 L935,445 M1104,254 L1050,400"/>
<path d="M250,1192 L352,1196 M250,1235 L315,1280 M285,1090 L415,1173 M1030,1200 L1103,1240 M1030,1290 L1103,1275 M1170,1030 L1200,1040 M355,1312 L355,1353 M548,1312 L548,1353 M879,1312 L879,1348 M1288,1325 L1288,1358 M1405,1318 L1405,1358 M1316,1030 L1316,1073 M1365,1000 L1405,1073 M1238,870 L1290,962 M385,958 L420,700"/>
</g>
<rect class="gr" x="332" y="185" width="98" height="85"/><text x="381" y="203">strace</text><text x="381" y="227">perf trace</text><text x="381" y="252">sysdig</text>
<rect class="pk" x="453" y="185" width="179" height="57"/><text x="542" y="202">opensnoop statsnoop</text><text x="542" y="226">syncsnoop</text>
<rect class="pk" x="691" y="185" width="189" height="80"/><text x="785" y="201">tcptop tcplife</text><text x="785" y="225">tcpconnect tcpaccept</text><text x="785" y="249">tcpconnlat tcpretrans</text>
<rect class="pk" x="898" y="187" width="177" height="33"/><text x="986" y="203">mysqld_qslower, ...</text>
<rect class="pk" x="968" y="237" width="136" height="33"/><text x="1036" y="254">gethostlatency</text>
<rect class="gn" x="443" y="280" width="87" height="35"/><text class="sa" x="486" y="297">App Config</text>
<rect class="pk" x="563" y="280" width="97" height="35"/><text x="611" y="296">ugc ucalls</text>
<rect class="gr" x="912" y="280" width="46" height="35"/><text x="935" y="296">ldd</text>
<rect class="gr" x="1015" y="290" width="76" height="35"/><text x="1053" y="307">ltrace</text>
<rect class="gr" x="1125" y="205" width="112" height="60"/><text x="1180" y="223">sar /proc</text><text x="1180" y="247">dstat dmesg</text>
<rect class="gn" x="1260" y="205" width="112" height="100"/><text x="1316" y="219">sysctl /sys</text><text x="1316" y="243">dmesg lshw</text><text x="1316" y="267">journalctl</text><text x="1316" y="291">lsmod</text>
<rect class="pk" x="1395" y="205" width="80" height="30"/><text x="1435" y="220">capable</text>
<rect class="pk" x="218" y="298" width="167" height="82"/><text x="306" y="315">cachestat dcsnoop</text><text x="302" y="339">filetop fileslower</text><text x="336" y="363">mountsnoop</text>
<rect class="pk" x="1042" y="347" width="158" height="80"/><text x="1120" y="362">cpudist execsnoop</text><text x="1120" y="386">runlat cpudist</text><text x="1120" y="411">offcputime</text>
<rect class="gr" x="138" y="420" width="67" height="160"/><text x="158" y="440">perf</text><text x="167" y="464">ftrace</text><text x="158" y="489">stap</text><text x="162" y="513">lttng</text><text x="154" y="537">bcc</text><text x="160" y="561">(BPF)</text>
<rect class="pk" x="287" y="410" width="98" height="130"/><text x="335" y="426">ext4slower</text><text x="344" y="450">ext4dist</text><text x="354" y="474">btrfs*</text><text x="361" y="498">xfs*</text><text x="361" y="522">zfs*</text>
<rect class="gr" x="1218" y="393" width="132" height="62"/><text x="1284" y="411">intel_gpu_top</text><text x="1284" y="435">intel_gpu_time</text>
<rect class="gn" x="1372" y="420" width="106" height="62"/><text x="1424" y="440">intel_gpu_\</text><text x="1424" y="464">frequency</text>
<rect class="gr" x="1058" y="447" width="97" height="35"/><text x="1107" y="464">latencytop</text>
<rect class="gn" x="1075" y="500" width="92" height="35"/><text x="1121" y="517">schedtool</text>
<rect class="gn" x="1374" y="548" width="123" height="62"/><text x="1436" y="566">/proc/cpuinfo</text><text x="1436" y="590">cpuid lscpu</text>
<rect class="gr" x="315" y="575" width="70" height="57"/><text x="361" y="593">lsof</text><text x="352" y="617">pcstat</text>
<rect class="gr" x="1072" y="555" width="100" height="85"/><text x="1121" y="572">mpstat</text><text x="1121" y="597">powertop</text><text x="1121" y="621">/proc/stat</text>
<rect class="pk" x="138" y="627" width="107" height="209"/><text x="180" y="646">funccount</text><text x="189" y="671">funclatency</text><text x="184" y="695">stackcount</text><text x="167" y="719">kprobe</text><text x="167" y="743">uprobe</text><text x="171" y="767">argdist</text><text x="163" y="791">trace</text><text x="171" y="815">profile</text>
<rect class="gn" x="325" y="657" width="60" height="33"/><text x="355" y="673">df -h</text>
<rect class="gr" x="1376" y="650" width="86" height="60"/><text x="1419" y="667">turbostat</text><text x="1401" y="691">rdmsr</text>
<rect class="gr" x="1042" y="665" width="173" height="32"/><text x="1128" y="681">top htop ps pidstat</text>
<rect class="gn" x="292" y="712" width="93" height="58"/><text x="336" y="728">mdadm lvm</text><text x="346" y="754">dmsetup</text>
<rect class="gr" x="1060" y="725" width="132" height="80"/><text x="1126" y="742">vmstat</text><text x="1126" y="766">slabtop free</text><text x="1126" y="790">/proc/meminfo</text>
<rect class="gr" x="283" y="800" width="102" height="32"/><text x="334" y="815">pidstat -d</text>
<rect class="pk" x="1015" y="830" width="142" height="60"/><text x="1086" y="848">memleak oomkill</text><text x="1086" y="872">slabratetop</text>
<rect class="gn" x="1172" y="852" width="66" height="33"/><text x="1205" y="866">numactl</text>
<rect class="gr" x="1378" y="835" width="84" height="60"/><text x="1409" y="853">tiptop</text><text x="1412" y="877">perf pcm</text>
<rect class="gn" x="292" y="870" width="93" height="35"/><text x="339" y="887">multipath</text>
<rect class="pk" x="1383" y="935" width="72" height="57"/><text x="1418" y="951">llcstat</text><text x="1418" y="975">profile</text>
<rect class="pk" x="305" y="940" width="80" height="35"/><text x="347" y="958">mdflush</text>
<rect class="gn" x="1014" y="928" width="77" height="34"/><text x="1052" y="946">/sys/...</text>
<rect class="gr" x="1105" y="980" width="65" height="63"/><text x="1146" y="1001">perf</text><text x="1139" y="1025">tiptop</text>
<rect class="pk" x="368" y="1005" width="178" height="57"/><text x="457" y="1021">biotop biosnoop</text><text x="457" y="1045">biolatency bitesize</text>
<rect class="gr" x="586" y="1003" width="34" height="35"/><text x="603" y="1020">ss</text>
<rect class="gr" x="715" y="1005" width="75" height="35"/><text x="752" y="1022">tcpdump</text>
<rect class="gn" x="808" y="1005" width="77" height="85"/><text x="846" y="1023">ip</text><text x="846" y="1047">route</text><text x="846" y="1071">iptables</text>
<rect class="gr" x="902" y="1005" width="90" height="60"/><text x="946" y="1023">netstat</text><text x="946" y="1047">iptraf-ng</text>
<rect class="gn" x="1010" y="1003" width="58" height="35"/><text x="1039" y="1020">dmesg</text>
<rect class="pk" x="625" y="1052" width="87" height="56"/><text x="668" y="1070">hardirqs</text><text x="668" y="1095">ttysnoop</text>
<rect class="gn" x="210" y="1030" width="75" height="60"/><text x="247" y="1048">storcli</text><text x="247" y="1072">MegaCli</text>
<rect class="gr" x="1277" y="1073" width="80" height="32"/><text x="1316" y="1088">numastat</text>
<rect class="gn" x="1385" y="1073" width="67" height="32"/><text x="1419" y="1088">lstopo</text>
<rect class="gr" x="164" y="1173" width="86" height="82"/><text x="218" y="1192">iostat</text><text x="222" y="1215">iotop</text><text x="209" y="1239">blktrace</text>
<rect class="gn" x="650" y="1182" width="105" height="33"/><text x="703" y="1198">lspci lsusb</text>
<rect class="gr" x="1103" y="1220" width="80" height="85"/><text x="1138" y="1239">nicstat</text><text x="1138" y="1263">netstat</text><text x="1117" y="1288">ip</text>
<rect class="gn" x="298" y="1353" width="190" height="60"/><text x="393" y="1371">lsblk lsscsi blockdev</text><text x="393" y="1395">smartctl  fdisk -l</text>
<rect class="gr" x="508" y="1353" width="107" height="60"/><text x="562" y="1372">swapon -s</text><text x="562" y="1396">/proc/swaps</text>
<rect class="gn" x="837" y="1348" width="83" height="60"/><text x="878" y="1365">ethtool</text><text x="878" y="1390">ifconfig</text>
<rect class="gr" x="1002" y="1348" width="80" height="60"/><text x="1042" y="1366">snmpget</text><text x="1042" y="1390">lldptool</text>
<rect class="gr" x="1240" y="1358" width="97" height="37"/><text x="1288" y="1378">sar -m FAN</text>
<rect class="gn" x="1360" y="1358" width="90" height="62"/><text x="1405" y="1379">ipmitool</text><text x="1405" y="1403">dmidecode</text>
<rect class="gr" x="78" y="1405" width="130" height="32"/><text class="sa" x="141" y="1422" style="font-size:18px">observability tools</text>
<rect class="gn" x="78" y="1452" width="170" height="33"/><text class="sa" x="163" y="1469" style="font-size:18px">static performance tools</text>
<rect class="pk" x="78" y="1498" width="188" height="34"/><text class="sa" x="172" y="1516" style="font-size:18px">perf-tools/bcc tracing tools</text>
<text class="sa ft" x="480" y="1468">these can observe the state of the system at rest, without load</text>
<text class="sa ft" x="535" y="1518">https://github.com/brendangregg/perf-tools   https://github.com/iovisor/bcc</text>
<text class="sa ft" x="1390" y="1490">style inspired by reddit.com/u/redct</text>
<text class="sa ft" x="1345" y="1518">http://www.brendangregg.com/linuxperf.html 2017</text>
</svg>

<svg class="n i2" x="0" y="1360" width="1180" height="854" viewBox="0 0 1568 1568" preserveAspectRatio="none" overflow="visible">
<rect x="35" y="30" width="1510" height="1490" rx="4" fill="#fff" stroke="#1f4d78" stroke-width="2.5"/>
<text class="sa" x="750" y="137" style="font-size:58px;fill:#444">Linux bcc/BPF Tracing Tools</text>
<line x1="48" y1="182" x2="1530" y2="182" stroke="#999" stroke-width="2"/>
<g stroke="#333" stroke-width="1.3">
<rect x="438" y="505" width="704" height="175" fill="#fddcdc"/>
<rect x="584" y="617" width="558" height="63" fill="#fddcdc"/>
<rect x="438" y="680" width="704" height="65" fill="#fdf9d9"/>
<rect x="438" y="745" width="309" height="63" fill="#d6e3fb"/><rect x="438" y="808" width="309" height="65" fill="#d6e3fb"/><rect x="438" y="873" width="309" height="64" fill="#d6e3fb"/><rect x="438" y="937" width="309" height="63" fill="#d6e3fb"/>
<rect x="747" y="745" width="207" height="63" fill="#e2efd9"/><rect x="747" y="808" width="207" height="65" fill="#e2efd9"/><rect x="747" y="873" width="207" height="64" fill="#e2efd9"/><rect x="747" y="937" width="207" height="63" fill="#e2efd9"/>
<rect x="954" y="745" width="188" height="128" fill="#fdf2dc"/><rect x="954" y="873" width="188" height="127" fill="#fdf2dc"/>
<rect x="438" y="1000" width="704" height="63" fill="#cdeefc"/>
<rect x="1320" y="1150" width="146" height="62" fill="#fcd5a4"/>
<rect x="1342" y="1260" width="104" height="117" fill="#fcd5a4"/>
<line x1="1394" y1="1212" x2="1394" y2="1260"/>
</g>
<polygon points="107,505 132,545 117,545 117,1025 132,1025 107,1065 82,1025 97,1025 97,545 82,545" fill="#fff" stroke="#111" stroke-width="2"/>
<text class="sa" x="790" y="550">Applications</text>
<text class="sa" x="862" y="650">System Libraries</text>
<text class="sa" x="790" y="713">System Call Interface</text>
<text class="sa" x="592" y="777">VFS</text><text class="sa" x="592" y="841">File Systems</text><text class="sa" x="592" y="905">Volume Manager</text><text class="sa" x="592" y="969">Block Device Interface</text>
<text class="sa" x="850" y="777">Sockets</text><text class="sa" x="850" y="841">TCP/UDP</text><text class="sa" x="850" y="905">IP</text><text class="sa" x="850" y="969">Ethernet</text>
<text class="sa" x="1048" y="787">Scheduler</text><text class="sa" x="1048" y="913">Virtual</text><text class="sa" x="1048" y="960">Memory</text>
<text class="sa" x="790" y="1032">Device Drivers</text>
<text class="sa" x="1392" y="1181">DRAM</text><text class="sa" x="1392" y="1318">CPU</text>
<text x="230" y="258">filetop</text><text x="230" y="298">filelife fileslower</text><text x="230" y="338">vfscount vfsstat</text>
<text x="475" y="248">opensnoop</text><text x="475" y="288">statsnoop</text><text x="475" y="328">syncsnoop</text>
<text x="680" y="248">c* java* node*</text><text x="680" y="288">php* python*</text><text x="680" y="328">ruby*</text>
<text x="948" y="255">mysqld_qslower</text><text x="948" y="294">bashreadline</text>
<text x="1185" y="255">gethostlatency</text><text x="1175" y="293">memleak</text><text x="1175" y="332">sslsniff</text>
<text class="sa" x="1390" y="260">Other:</text><text x="1397" y="303">capable</text>
<text x="848" y="378">ucalls uflow</text><text x="848" y="418">ugc uobjnew</text><text x="848" y="457">ustat uthreads</text>
<text x="1318" y="378">syscount</text><text x="1318" y="418">killsnoop</text>
<text x="1366" y="485">execsnoop</text><text x="1366" y="525">pidpersec</text>
<text x="224" y="412">cachestat cachetop</text><text x="224" y="453">dcstat dcsnoop</text><text x="224" y="493">mountsnoop</text>
<text x="1418" y="608">cpudist</text><text x="1358" y="648">runqlat runqlen</text><text x="1350" y="688">deadlock_detector</text><text x="1380" y="725">cpuunclaimed</text>
<text x="1395" y="812">offcputime</text><text x="1395" y="852">wakeuptime</text><text x="1388" y="891">offwaketime</text>
<text x="1325" y="954">softirqs</text>
<text x="1338" y="1027">oomkill memleak</text><text x="1338" y="1066">slabratetop</text>
<text x="156" y="665">trace</text><text x="184" y="705">argdist</text><text x="198" y="744">funccount</text><text x="205" y="783">funcslower</text><text x="212" y="823">funclatency</text><text x="203" y="863">stackcount</text><text x="182" y="903">profile</text>
<text x="252" y="1064">mdflush</text>
<text x="150" y="1141">btrfsdist</text><text x="165" y="1181">btrfsslower</text><text x="224" y="1220">ext4dist ext4slower</text><text x="210" y="1260">xfsdist xfsslower</text><text x="210" y="1299">zfsdist zfsslower</text>
<text x="646" y="1128">hardirqs ttysnoop</text>
<text x="850" y="1202">tcptop tcplife tcptracer</text><text x="850" y="1242">tcpconnect tcpaccept</text><text x="850" y="1282">tcpconnlat tcpretrans</text>
<text x="508" y="1346">biotop biosnoop</text><text x="508" y="1386">biolatency bitesize</text>
<text x="1197" y="1273">llcstat</text><text x="1197" y="1340">profile</text>
<text class="sa" x="1263" y="1435" style="font-size:30px;fill:#bbb">https://github.com/iovisor/bcc#tools 2017</text>
<g class="ar">
<line x1="370" y1="330" x2="535" y2="758"/><line x1="342" y1="473" x2="503" y2="765"/><line x1="507" y1="355" x2="567" y2="740"/>
<line x1="677" y1="355" x2="677" y2="585"/><line x1="905" y1="483" x2="905" y2="580"/><line x1="995" y1="320" x2="995" y2="585"/>
<line x1="1148" y1="365" x2="1055" y2="650"/><line x1="1243" y1="430" x2="1083" y2="712"/><line x1="1292" y1="505" x2="1105" y2="740"/>
<line x1="1270" y1="722" x2="1120" y2="805"/><line x1="1308" y1="848" x2="1120" y2="830"/><line x1="1258" y1="948" x2="1120" y2="855"/><line x1="1222" y1="1025" x2="1112" y2="945"/>
<line x1="928" y1="1175" x2="928" y2="838"/><line x1="652" y1="1105" x2="660" y2="1028"/><line x1="448" y1="1318" x2="515" y2="1000"/>
<line x1="298" y1="1188" x2="493" y2="838"/><line x1="318" y1="1048" x2="435" y2="905"/>
<line x1="1262" y1="1276" x2="1382" y2="1276"/><line x1="1262" y1="1342" x2="1338" y2="1342"/>
</g>
</svg>
<text x="590" y="2176" style="font-size:15px;fill:#1f4d78;font-weight:bold">(图片来自brendangregg.com)</text>
</svg>
</body></html>
